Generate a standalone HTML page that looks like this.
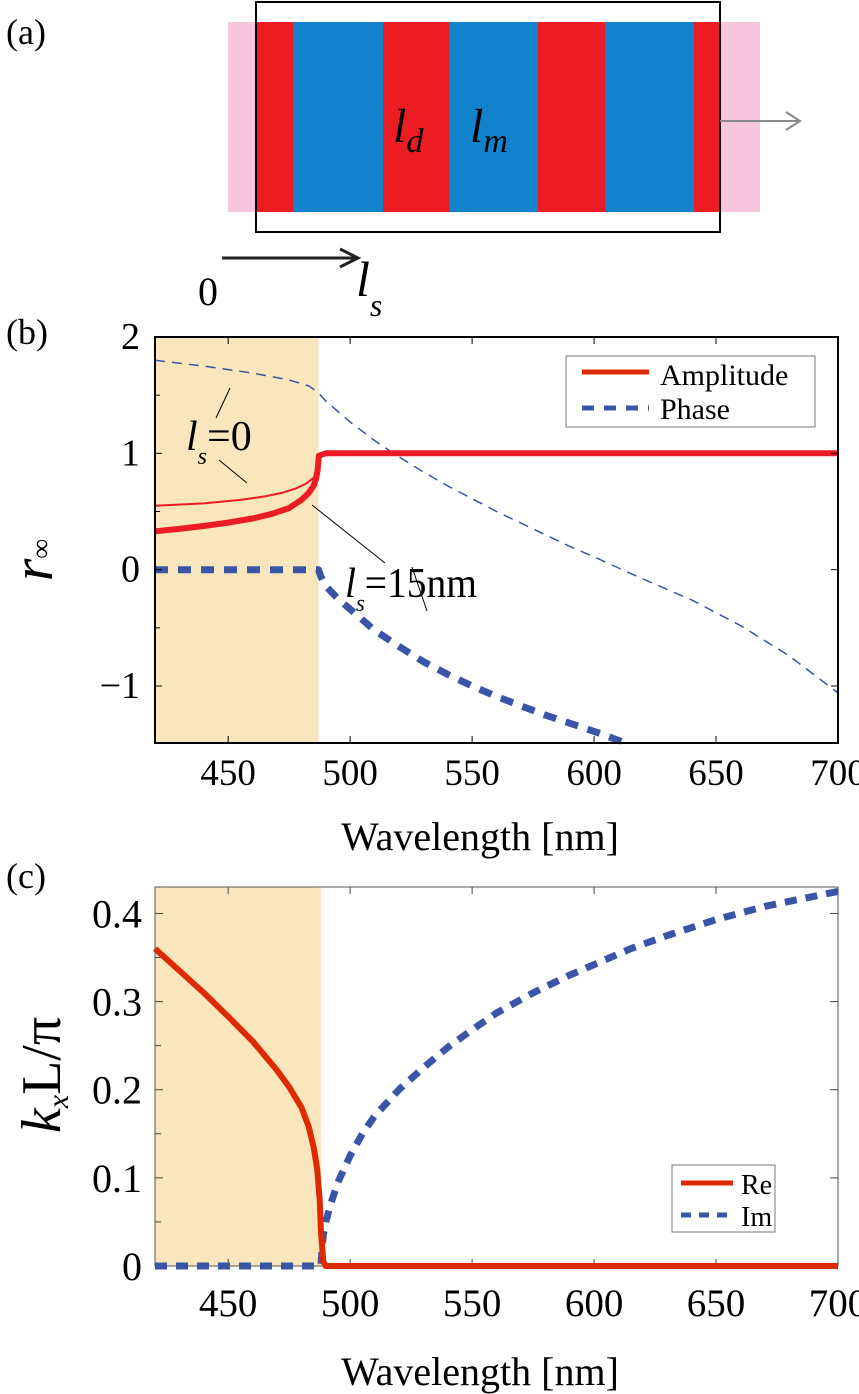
<!DOCTYPE html>
<html><head><meta charset="utf-8"><style>
html,body{margin:0;padding:0;background:#fff}
svg{display:block}
svg text{font-family:"Liberation Serif","Times New Roman",serif}
</style></head><body>
<svg id="fig" width="859" height="1394" viewBox="0 0 859 1394" xmlns="http://www.w3.org/2000/svg">
<g>
<text x="6" y="44" font-size="36">(a)</text>
<rect x="228" y="22" width="532" height="190" fill="#f8c6dc"/>
<rect x="255" y="22" width="38" height="190" fill="#ec1c24"/>
<rect x="293" y="22" width="90" height="190" fill="#1282cc"/>
<rect x="383" y="22" width="66" height="190" fill="#ec1c24"/>
<rect x="449" y="22" width="89" height="190" fill="#1282cc"/>
<rect x="538" y="22" width="67" height="190" fill="#ec1c24"/>
<rect x="605" y="22" width="89" height="190" fill="#1282cc"/>
<rect x="694" y="22" width="26" height="190" fill="#ec1c24"/>
<rect x="256" y="2" width="464" height="230" fill="none" stroke="#000" stroke-width="2"/>
<text x="393" y="142" font-size="48" font-style="italic">l<tspan font-size="34" dy="10">d</tspan></text>
<text x="470" y="142" font-size="48" font-style="italic">l<tspan font-size="34" dy="10">m</tspan></text>
<g stroke="#888" stroke-width="2" fill="none"><line x1="720" y1="121" x2="800" y2="121"/><polyline points="786,112 800,121 786,130"/></g>
<g stroke="#222" stroke-width="3" fill="none"><line x1="222" y1="258" x2="358" y2="258"/><polyline points="340,249 358,258 340,267"/></g>
<text x="198" y="305" font-size="40">0</text>
<text x="356" y="296" font-size="50" font-style="italic">l<tspan font-size="32" dy="20">s</tspan></text>
</g>
<g id="pb"></g>
<g id="pc"></g>
</svg>
<script>
const NS="http://www.w3.org/2000/svg";
// panel (b) data
const bX=[420,430,440,450,460,468,475,480,483,485,486,486.7,487.2,490,550,600,650,700];
const bAmpThick=[0.33,0.35,0.375,0.405,0.44,0.48,0.53,0.6,0.66,0.72,0.78,0.86,0.98,1.0,1.0,1.0,1.0,1.0];
const bThinX=[420,440,455,465,472,478,482,485,486.5,487];
const bAmpThin=[0.55,0.57,0.6,0.63,0.66,0.7,0.74,0.79,0.86,0.95];
const bPhX=[420,487,488,490,495,500,510,520,530,540,550,560,570,580,590,600,613];
const bPhThick=[0,0,-0.06,-0.14,-0.25,-0.34,-0.52,-0.66,-0.79,-0.9,-1.0,-1.09,-1.17,-1.25,-1.32,-1.39,-1.49];
const bPh0X=[420,440,460,475,483,487,490,495,500,510,520,530,540,550,560,575,590,600,620,640,660,680,700];
const bPh0=[1.8,1.75,1.69,1.63,1.58,1.52,1.45,1.36,1.27,1.11,0.97,0.84,0.72,0.61,0.5,0.35,0.2,0.11,-0.08,-0.26,-0.48,-0.74,-1.06];
const bYTicks=[2,1,0,-1];
const bYLabels=["2","1","0","\u22121"];
const xTicks=[450,500,550,600,650,700];
// panel (c) data
const cReX=[420,430,440,450,460,470,475,480,483,485,486.5,487.5,488,489,490,700];
const cRe=[0.36,0.335,0.31,0.283,0.255,0.222,0.203,0.18,0.158,0.135,0.11,0.075,0.04,0.005,0,0];
const cImX=[420,488,488.5,489,490,492,495,500,505,510,520,530,540,550,560,575,590,600,615,630,650,670,700];
const cIm=[0,0,0.02,0.035,0.05,0.07,0.095,0.125,0.15,0.17,0.2,0.225,0.248,0.268,0.287,0.31,0.33,0.342,0.36,0.375,0.393,0.408,0.425];
const cYTicks=[0,0.1,0.2,0.3,0.4];
const cYLabels=["0","0.1","0.2","0.3","0.4"];

function el(p,t,a){const e=document.createElementNS(NS,t);for(const k in a)e.setAttribute(k,a[k]);p.appendChild(e);return e;}
function mk(x0,x1,y0,y1,L,R,T,B){return {x:v=>L+(v-x0)/(x1-x0)*(R-L),y:v=>B-(v-y0)/(y1-y0)*(B-T)};}
function path(g,sx,xs,ys,attrs,name){const d=xs.map((v,i)=>(i?'L':'M')+sx.x(v).toFixed(1)+','+sx.y(ys[i]).toFixed(1)).join(' ');const p=el(g,'path',Object.assign({d:d,fill:'none','stroke-linejoin':'round'},attrs));


return p;}
function txt(g,x,y,s,attrs,name){const t=el(g,'text',Object.assign({x:x,y:y},attrs));t.textContent=s;


return t;}

// Panel B
(function(){
const g=document.getElementById('pb');
const L=155,R=838,T=337,B=743;
const s=mk(420,700,-1.49,2.0,L,R,T,B);
const sh=el(g,'rect',{x:L,y:T,width:s.x(487)-L,height:B-T,fill:'#fae6bc'});


path(g,s,bPh0X,bPh0,{stroke:'#3a55a8','stroke-width':1.5,'stroke-dasharray':'10,7'},'phase-ls0-line');
path(g,s,bPhX,bPhThick,{stroke:'#3a55a8','stroke-width':7,'stroke-dasharray':'13,10'},'phase-ls15-line');
path(g,s,bThinX,bAmpThin,{stroke:'#ec1c24','stroke-width':2},'amplitude-ls0-line');
path(g,s,bX,bAmpThick,{stroke:'#ec1c24','stroke-width':6},'amplitude-ls15-line');
[[230,388,216,418],[219,460,247,483],[312,505,385,563],[427,611,412,567]].forEach((l,i)=>{const a=el(g,'line',{x1:l[0],y1:l[1],x2:l[2],y2:l[3],stroke:'#000','stroke-width':1});

});
const t1=txt(g,186,450,'',{'font-size':42},'ls0-annotation');t1.innerHTML='<tspan font-style="italic">l</tspan><tspan font-size="24" dy="14" font-style="italic">s</tspan><tspan dy="-14">=0</tspan>';
const t2=txt(g,345,597,'',{'font-size':42,'textLength':132,'lengthAdjust':'spacingAndGlyphs'},'ls15-annotation');t2.innerHTML='<tspan font-style="italic">l</tspan><tspan font-size="24" dy="14" font-style="italic">s</tspan><tspan dy="-14">=15nm</tspan>';
const fr=el(g,'rect',{x:L,y:T,width:R-L,height:B-T,fill:'none',stroke:'#000','stroke-width':2});


bYTicks.forEach((v,i)=>{const y=s.y(v);el(g,'line',{x1:L,y1:y,x2:L+7,y2:y,stroke:'#000','stroke-width':1});el(g,'line',{x1:R,y1:y,x2:R-7,y2:y,stroke:'#000','stroke-width':1});
txt(g,L-15,y+12,bYLabels[i],{'font-size':38,'text-anchor':'end'},'y-tick-label-b');});
[-0.5,0.5,1.5].forEach(v=>{const y=s.y(v);el(g,'line',{x1:L,y1:y,x2:L+5,y2:y,stroke:'#000'});});
xTicks.forEach(v=>{const x=s.x(v);el(g,'line',{x1:x,y1:B,x2:x,y2:B-7,stroke:'#000'});el(g,'line',{x1:x,y1:T,x2:x,y2:T+7,stroke:'#000'});
txt(g,x,B+42,String(v),{'font-size':37,'text-anchor':'middle'},'x-tick-label-b');});
txt(g,6,344,'(b)',{'font-size':36},'panel-b-label');
txt(g,480,850,'Wavelength [nm]',{'font-size':40,'text-anchor':'middle'},'x-axis-title-b');
const yt=txt(g,0,0,'',{'font-size':58,transform:'translate(52,560) rotate(-90)','text-anchor':'middle'},'y-axis-title-b');yt.innerHTML='<tspan font-style="italic">r</tspan><tspan font-size="28" dy="-2">\u221e</tspan>';
const lg=el(g,'g',{});


el(lg,'rect',{x:566,y:356,width:249,height:71,fill:'#fff',stroke:'#777','stroke-width':1});
el(lg,'line',{x1:582,y1:372,x2:649,y2:372,stroke:'#dd2a00','stroke-width':5});
el(lg,'line',{x1:582,y1:408,x2:649,y2:408,stroke:'#3a55a8','stroke-width':5,'stroke-dasharray':'12,10'});
txt(lg,660,385,'Amplitude',{'font-size':30},'legend-entry-amplitude');
txt(lg,660,419,'Phase',{'font-size':30},'legend-entry-phase');
})();

// Panel C
(function(){
const g=document.getElementById('pc');
const L=155,R=838,T=887,B=1266;
const s=mk(420,700,0,0.43,L,R,T,B);
const sh=el(g,'rect',{x:L,y:T,width:s.x(488)-L,height:B-T,fill:'#fae6bc'});


const fr=el(g,'rect',{x:L,y:T,width:R-L,height:B-T,fill:'none',stroke:'#555','stroke-width':1});


cYTicks.forEach((v,i)=>{const y=s.y(v);el(g,'line',{x1:L,y1:y,x2:L+8,y2:y,stroke:'#444'});el(g,'line',{x1:R,y1:y,x2:R-8,y2:y,stroke:'#444'});
txt(g,L-13,y+14,cYLabels[i],{'font-size':40,'text-anchor':'end'},'y-tick-label-c');});
[0.05,0.15,0.25,0.35].forEach(v=>{const y=s.y(v);el(g,'line',{x1:L,y1:y,x2:L+6,y2:y,stroke:'#444'});});
xTicks.forEach(v=>{const x=s.x(v);el(g,'line',{x1:x,y1:B,x2:x,y2:B-7,stroke:'#444'});el(g,'line',{x1:x,y1:T,x2:x,y2:T+7,stroke:'#444'});
txt(g,x,B+50,String(v),{'font-size':39,'text-anchor':'middle'},'x-tick-label-c');});
path(g,s,cImX,cIm,{stroke:'#3a55a8','stroke-width':7,'stroke-dasharray':'12,9'},'im-line');
path(g,s,cReX,cRe,{stroke:'#dd2a00','stroke-width':6},'re-line');
txt(g,6,888,'(c)',{'font-size':36},'panel-c-label');
txt(g,480,1385,'Wavelength [nm]',{'font-size':40,'text-anchor':'middle'},'x-axis-title-c');
const yt=txt(g,0,0,'',{'font-size':56,transform:'translate(60,1075) rotate(-90)','text-anchor':'middle'},'y-axis-title-c');yt.innerHTML='<tspan font-style="italic">k</tspan><tspan font-size="30" dy="8" font-style="italic">x</tspan><tspan dy="-8">L/\u03c0</tspan>';
const lg=el(g,'g',{});


el(lg,'rect',{x:672,y:1165,width:103,height:67,fill:'#fff',stroke:'#777','stroke-width':1});
el(lg,'line',{x1:681,y1:1183,x2:733,y2:1183,stroke:'#dd2a00','stroke-width':5});
el(lg,'line',{x1:681,y1:1215,x2:733,y2:1215,stroke:'#3a55a8','stroke-width':5,'stroke-dasharray':'10,8'});
txt(lg,741,1194,'Re',{'font-size':28},'legend-entry-re');
txt(lg,741,1226,'Im',{'font-size':28},'legend-entry-im');
})();
</script>
</body></html>
